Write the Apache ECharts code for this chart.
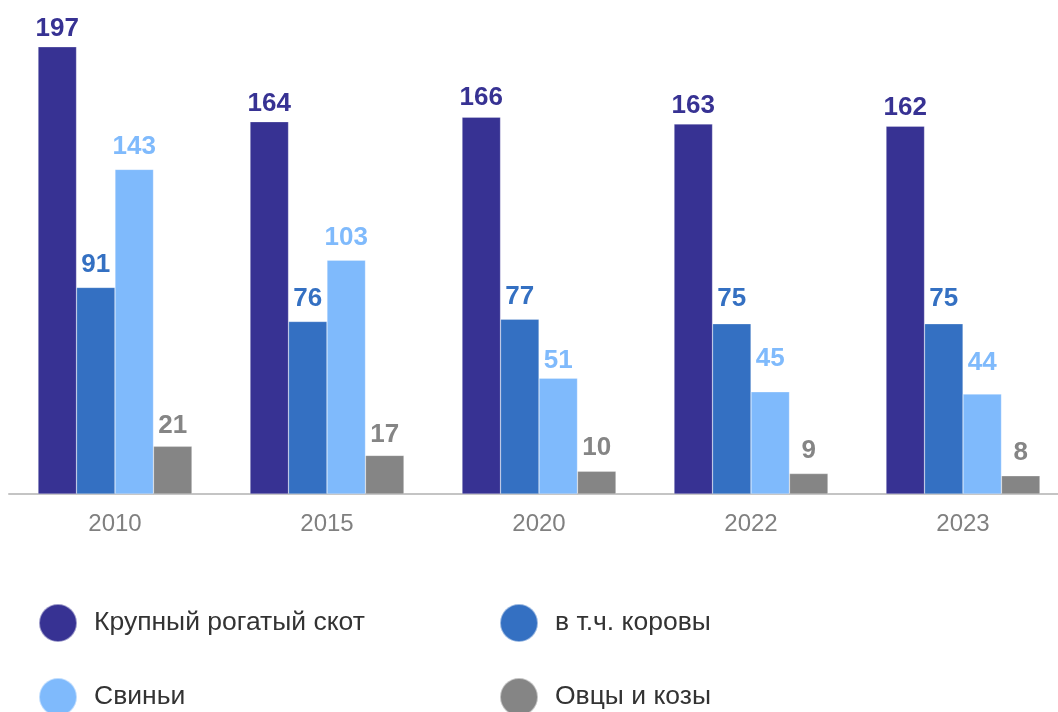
<!DOCTYPE html>
<html><head><meta charset="utf-8">
<script src="https://cdn.jsdelivr.net/npm/echarts@6/dist/echarts.min.js"></script>
<style>html,body{margin:0;padding:0;background:#fff}#c{width:1058px;height:712px}</style>
</head><body><div id="c"></div>
<script>
const years = ['2010','2015','2020','2022','2023'];
const seriesNames = ['Крупный рогатый скот','в т.ч. коровы','Свиньи','Овцы и козы'];
const cattle = [197,164,166,163,162];
const cows = [91,76,77,75,75];
const pigs = [143,103,51,45,44];
const sheep = [21,17,10,9,8];
const colors = ['#373293','#3470C2','#7FBAFC','#858585'];
const values = [cattle, cows, pigs, sheep];
// label offsets above bars (style only)
const labelDistances = [[5,5,6,5,5],[10,10,9,12,12],[10,9,4,20,18],[8,8,10,10,10]];

const chart = echarts.init(document.getElementById('c'));
const font = '"Liberation Sans", Arial, sans-serif';
const legendPos = [[38,603],[499,603],[38,677],[499,677]];
chart.setOption({
  animation:false,
  grid:{left:9,width:1060,top:40,bottom:218,containLabel:false,outerBoundsMode:'none'},
  xAxis:{type:'category',data:years,
    axisLine:{lineStyle:{color:'#c4c4c4',width:2}},
    axisTick:{show:false},
    axisLabel:{color:'#808080',fontSize:24,fontFamily:font,margin:18}},
  yAxis:{type:'value',min:0,max:200,show:false,splitLine:{show:false}},
  legend: seriesNames.map((n,i)=>({
    data:[{name:n,icon:'circle'}],left:legendPos[i][0],top:legendPos[i][1],
    padding:0,itemWidth:38,itemHeight:38,itemGap:0,
    textStyle:{fontSize:26.5,color:'#333',fontFamily:font,padding:[0,0,0,12]}
  })),
  series: seriesNames.map((n,i)=>({
    name:n,type:'bar',
    data:values[i].map((v,j)=>({value:v,label:{distance:labelDistances[i][j]}})),
    barGap:'0%',barCategoryGap:'27.4%',
    itemStyle:{color:colors[i],borderColor:'rgba(255,255,255,0.5)',borderWidth:0.5},
    label:{show:true,position:'top',color:colors[i],fontSize:26,fontWeight:'bold',fontFamily:font}
  }))
});
</script></body></html>
